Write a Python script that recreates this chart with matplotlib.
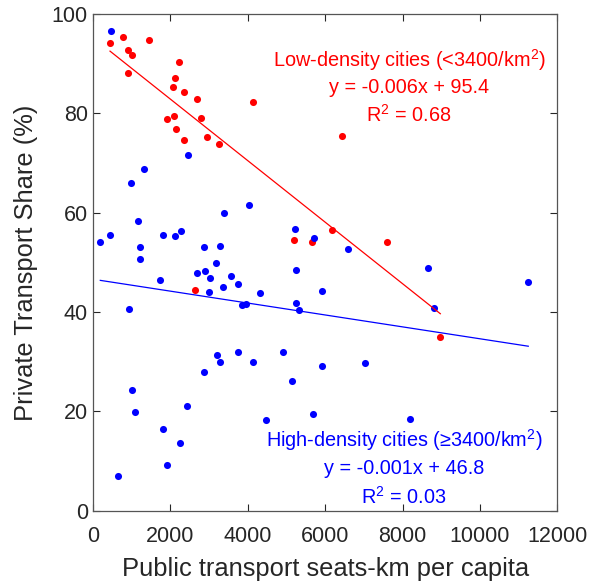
import numpy as np
import matplotlib
matplotlib.use('Agg')
import matplotlib.pyplot as plt

plt.rcParams['font.family'] = ['Liberation Sans', 'DejaVu Sans']
plt.rcParams['mathtext.fontset'] = 'custom'
plt.rcParams['mathtext.rm'] = 'Liberation Sans'
plt.rcParams['mathtext.it'] = 'Liberation Sans:italic'

#%% datos leidos del grafico
# ciudades de baja densidad (<3400/km2)
low_x = [447, 791, 1462, 920, 1023, 903, 2237, 2134, 2065, 2366, 2685, 4139, 2805,
         1926, 2090, 2151, 2943, 2366, 3253, 6171, 5198, 5654, 6446, 7607, 2650, 8976]
low_y = [94.2, 95.4, 94.7, 92.7, 91.8, 88.2, 90.3, 87.1, 85.3, 84.4, 82.9, 82.2, 79.1,
         78.8, 79.4, 76.8, 75.2, 74.6, 73.8, 56.6, 54.4, 54.1, 75.4, 54.1, 44.4, 34.9]

# ciudades de alta densidad (>=3400/km2)
high_x = [473, 2470, 1325, 981, 4028, 3390, 1170, 5223, 5714, 196, 454, 1807, 2117,
          2288, 1229, 2882, 3287, 1229, 3192, 2702, 2900, 3021, 3571, 3744, 3364, 3003,
          1730, 4320, 3847, 3966, 5257, 5257, 5327, 5913, 929, 3209, 3279, 3760, 4139,
          2866, 4922, 5137, 5913, 1023, 1092, 2427, 4483, 5688, 1807, 2246, 1911, 653,
          6600, 8658, 11247, 8804, 7039, 8185]
high_y = [96.5, 71.6, 68.7, 65.9, 61.5, 59.9, 58.3, 56.8, 54.8, 54.1, 55.6, 55.6, 55.2,
          56.4, 53.1, 53.0, 53.3, 50.6, 49.9, 47.9, 48.2, 46.8, 47.2, 45.7, 45.0, 44.1,
          46.4, 43.8, 41.4, 41.6, 48.4, 41.8, 40.3, 44.3, 40.5, 31.3, 29.9, 31.9, 30.0,
          28.0, 31.9, 26.1, 29.2, 24.2, 19.9, 21.1, 18.2, 19.5, 16.4, 13.7, 9.2, 6.9,
          52.7, 48.9, 46.0, 40.7, 29.7, 18.4]

# rectas de ajuste (pendiente, ordenada)
low_fit = [-0.0062, 95.3]
high_fit = [-0.0012, 46.6]

low_txt = ['Low-density cities (<3400/km$^2$)', 'y = -0.006x + 95.4', 'R$^2$ = 0.68']
high_txt = ['High-density cities (\u22653400/km$^2$)', 'y = -0.001x + 46.8', 'R$^2$ = 0.03']

#%% grafico
grey = '#262626'
fig = plt.figure(figsize=(5.92, 5.85), dpi=100)
ax = fig.add_axes([0.1566, 0.1272, 0.785, 0.8488])

ax.scatter(low_x, low_y, s=26, color='red', zorder=3, linewidths=0)
ax.scatter(high_x, high_y, s=26, color='blue', zorder=3, linewidths=0)

xl = np.array([min(low_x), max(low_x)])
ax.plot(xl, np.polyval(low_fit, xl), color='red', lw=0.9, zorder=4)
xh = np.array([min(high_x), max(high_x)])
ax.plot(xh, np.polyval(high_fit, xh), color='blue', lw=0.9, zorder=4)

for i, t in enumerate(low_txt):
    ax.text(8170, 90.7 - i * 5.5, t, color='red', fontsize=14.3, ha='center', va='center')
for i, t in enumerate(high_txt):
    ax.text(8040, 14.2 - i * 5.7, t, color='blue', fontsize=14.3, ha='center', va='center')

ax.set_xlim(0, 12000)
ax.set_ylim(0, 100)
ax.set_xticks(np.arange(0, 12001, 2000))
ax.set_yticks(np.arange(0, 101, 20))
ax.tick_params(direction='in', top=True, right=True, length=5, width=0.8,
               labelsize=15.5, colors=grey, labelcolor=grey)
ax.tick_params(axis='x', pad=11)
for sp in ax.spines.values():
    sp.set_color('#555555')
    sp.set_linewidth(0.9)

ax.set_xlabel('Public transport seats-km per capita', fontsize=18.4, color=grey, labelpad=7)
ax.set_ylabel('Private Transport Share (%)', fontsize=18.4, color=grey, labelpad=10)

plt.savefig('out.png', dpi=100)
